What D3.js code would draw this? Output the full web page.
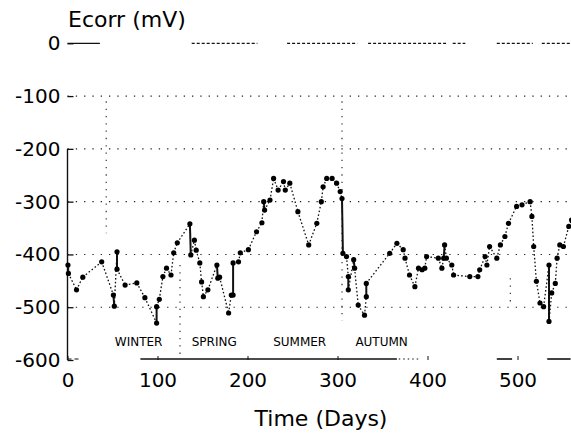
<!DOCTYPE html>
<html>
<head>
<meta charset="utf-8">
<script src="https://cdn.jsdelivr.net/npm/d3@7/dist/d3.min.js"></script>
<style>
  html, body { margin: 0; padding: 0; background: #fff; }
  svg { display: block; font-family: "DejaVu Sans", sans-serif; }
</style>
</head>
<body>
<div id="chart"></div>
<script>
// Ecorr readings (mV) against time (days)
const days = [
  0.5, 1, 10, 17, 38, 51, 52, 55, 55, 64, 77, 86, 99, 99, 102, 106, 110, 115, 118, 122,
  136, 137, 141, 143, 147, 149, 151, 156, 166, 167, 169, 179, 182, 184, 184, 190, 192, 201,
  210, 216, 218, 219, 225, 229, 234, 240, 242, 247, 256, 268, 277, 282, 284, 288, 294, 299,
  303, 305, 306, 310, 312, 312, 318, 319, 323, 330, 332, 332, 358, 366, 373, 375, 380, 386,
  390, 394, 397, 399, 412, 416, 418, 419, 421, 427, 429, 447, 456, 458, 464, 466, 469, 477,
  481, 486, 490, 499, 505, 514, 516, 518, 521, 525, 529, 535, 535, 538, 542, 544, 547, 551,
  557, 560
];
const ecorr = [
  -420, -436, -467, -443, -414, -477, -498, -395, -428, -458, -454, -482, -530, -499, -485, -442, -426, -439, -397, -378,
  -342, -401, -373, -392, -416, -452, -480, -467, -420, -445, -443, -511, -477, -477, -416, -414, -397, -391,
  -357, -340, -300, -316, -297, -256, -278, -262, -278, -265, -319, -382, -341, -300, -272, -256, -256, -265,
  -281, -294, -398, -404, -442, -467, -410, -426, -496, -515, -480, -455, -398, -379, -391, -407, -439, -461,
  -426, -429, -426, -404, -407, -426, -407, -382, -407, -420, -439, -442, -442, -429, -404, -420, -385, -407,
  -382, -366, -341, -309, -306, -300, -328, -385, -451, -492, -499, -420, -527, -473, -455, -407, -382, -385,
  -347, -335
];

const yTicks = [0, -100, -200, -300, -400, -500, -600];
const xTicks = [0, 100, 200, 300, 400, 500];
const gridValues = [-100, -200, -300, -400, -500];

const seasons = ['WINTER', 'SPRING', 'SUMMER', 'AUTUMN'];
const seasonDays = [79, 163, 258, 349];
const seasonLevel = -566;

// season boundary markers: [day, top mV, bottom mV]
const boundaries = [[43, -110, -360], [125, -420, -590], [305, -110, -525], [492, -445, -495]];

// broken frame lines left by the scan, in days
const topFrame = [[0, 36], [138, 211], [244, 322], [334, 422], [428, 442], [477, 517], [527, 559]];
const bottomFrame = [[0, 14, 'dash'], [81, 366, 'solid'], [368, 392, 'dot'], [477, 494, 'solid'], [533, 559, 'solid']];

const width = 571;
const height = 437;

const svg = d3.select('#chart').append('svg').attr('width', width).attr('height', height);

const x = d3.scaleLinear().domain([0, 560]).range([67.5, 571.5]);
const y = d3.scaleLinear().domain([-600, 0]).range([360, 43.3]);

// plain hyphen, as in the original print
const fmt = (d) => String(d);

// dotted grid
svg.append('g')
  .selectAll('line')
  .data(gridValues)
  .join('line')
  .attr('x1', x(0))
  .attr('x2', x(560))
  .attr('y1', (d) => y(d))
  .attr('y2', (d) => y(d))
  .attr('stroke', '#222')
  .attr('stroke-width', 1.1)
  .attr('stroke-dasharray', '1.3,7');

svg.append('g')
  .selectAll('line')
  .data(boundaries)
  .join('line')
  .attr('x1', (d) => x(d[0]))
  .attr('x2', (d) => x(d[0]))
  .attr('y1', (d) => y(d[1]))
  .attr('y2', (d) => y(d[2]))
  .attr('stroke', '#222')
  .attr('stroke-width', 1.1)
  .attr('stroke-dasharray', '1.3,6');

// frame
svg.append('g')
  .selectAll('line')
  .data(topFrame)
  .join('line')
  .attr('x1', (d) => x(d[0]))
  .attr('x2', (d) => x(d[1]))
  .attr('y1', y(0))
  .attr('y2', y(0))
  .attr('stroke', '#111')
  .attr('stroke-width', 1.2)
  .attr('stroke-dasharray', (d, i) => (i === 0 ? null : '3,2'));

svg.append('g')
  .selectAll('line')
  .data(bottomFrame)
  .join('line')
  .attr('x1', (d) => x(d[0]))
  .attr('x2', (d) => x(d[1]))
  .attr('y1', y(-600) - 1)
  .attr('y2', y(-600) - 1)
  .attr('stroke', '#111')
  .attr('stroke-width', (d) => (d[2] === 'solid' ? 1.6 : 1.2))
  .attr('stroke-dasharray', (d) => (d[2] === 'dash' ? '4,3' : d[2] === 'dot' ? '1.5,3' : null));

svg.append('line')
  .attr('x1', x(0))
  .attr('x2', x(0))
  .attr('y1', y(-200))
  .attr('y2', y(-600))
  .attr('stroke', '#111')
  .attr('stroke-width', 1.4);

svg.append('g')
  .attr('transform', `translate(${x(0)},0)`)
  .call(d3.axisLeft(y).tickValues(yTicks).tickSize(-6).tickPadding(7).tickFormat(fmt))
  .call((g) => g.select('.domain').remove())
  .call((g) => g.selectAll('line').attr('stroke', '#111').attr('stroke-width', 1.3))
  .selectAll('text')
  .attr('fill', '#000')
  .style('font-family', '"DejaVu Sans", sans-serif')
  .style('font-size', '20px');

svg.append('g')
  .attr('transform', `translate(0,${y(-600)})`)
  .call(d3.axisBottom(x).tickValues(xTicks).tickSize(-4).tickPadding(13).tickFormat(fmt))
  .call((g) => g.select('.domain').remove())
  .call((g) => g.selectAll('line').attr('stroke', '#111'))
  .selectAll('text')
  .attr('fill', '#000')
  .style('font-family', '"DejaVu Sans", sans-serif')
  .style('font-size', '20px');

// series: same-day readings are joined with a solid stroke, the rest dotted
const points = days.map((d, i) => ({ day: d, mv: ecorr[i] }));
const segs = d3.pairs(points);

svg.append('g')
  .selectAll('line')
  .data(segs)
  .join('line')
  .attr('x1', (d) => x(d[0].day))
  .attr('y1', (d) => y(d[0].mv))
  .attr('x2', (d) => x(d[1].day))
  .attr('y2', (d) => y(d[1].mv))
  .attr('stroke', '#111')
  .attr('stroke-width', (d) => (Math.abs(d[1].day - d[0].day) < 1.5 ? 2 : 1.3))
  .attr('stroke-dasharray', (d) => (Math.abs(d[1].day - d[0].day) < 1.5 ? null : '1.6,2.2'));

svg.append('g')
  .selectAll('circle')
  .data(points)
  .join('circle')
  .attr('cx', (d) => x(d.day))
  .attr('cy', (d) => y(d.mv))
  .attr('r', 2.6)
  .attr('fill', '#000');

// season labels
svg.append('g')
  .selectAll('text')
  .data(seasons)
  .join('text')
  .attr('x', (d, i) => x(seasonDays[i]))
  .attr('y', y(seasonLevel))
  .attr('dy', '0.35em')
  .attr('text-anchor', 'middle')
  .style('font-size', '12px')
  .attr('fill', '#000')
  .text((d) => d);

svg.append('text')
  .attr('x', 68)
  .attr('y', 27)
  .style('font-size', '22px')
  .attr('fill', '#000')
  .text('Ecorr (mV)');

svg.append('text')
  .attr('x', 321)
  .attr('y', 426)
  .attr('text-anchor', 'middle')
  .style('font-size', '22px')
  .attr('fill', '#000')
  .text('Time (Days)');
</script>
</body>
</html>
